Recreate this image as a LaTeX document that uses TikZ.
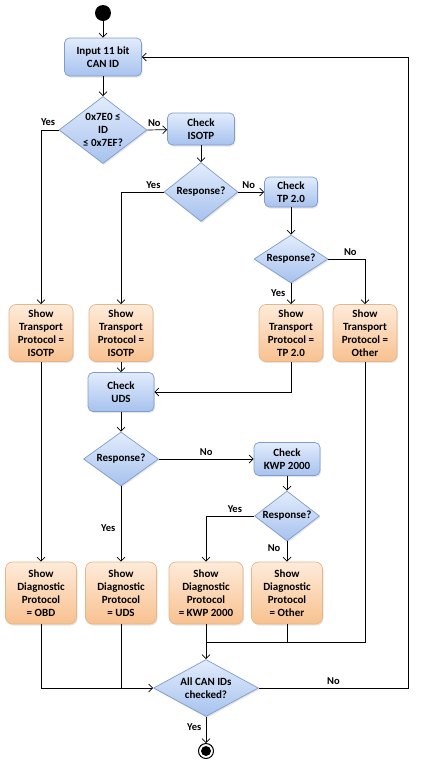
\documentclass[tikz,border=0pt]{standalone}
\usepackage{fontspec}
\setmainfont{Carlito}
\usepackage{tikz}
\usetikzlibrary{positioning,arrows.meta,shapes.geometric,shadows}
\definecolor{bluetop}{HTML}{E2ECFC}
\definecolor{bluebot}{HTML}{A7C2EE}
\definecolor{blueline}{HTML}{7F9CCB}
\definecolor{orgtop}{HTML}{FEEBDA}
\definecolor{orgbot}{HTML}{F8C18F}
\definecolor{orgline}{HTML}{E6B68A}
\tikzset{
  proc/.style={rectangle,rounded corners=5pt,draw=blueline,top color=bluetop,bottom color=bluebot,
    align=center,inner sep=1pt,drop shadow={opacity=0.2,shadow xshift=1pt,shadow yshift=-1.5pt}},
  res/.style={rectangle,rounded corners=7pt,draw=orgline,top color=orgtop,bottom color=orgbot,
    align=center,inner sep=1pt,drop shadow={opacity=0.2,shadow xshift=1pt,shadow yshift=-1.5pt}},
  dec/.style={diamond,shape aspect=1.3,draw=blueline,top color=bluetop,bottom color=bluebot,
    align=center,inner sep=0pt,drop shadow={opacity=0.2,shadow xshift=1pt,shadow yshift=-1.5pt}},
  lbl/.style={font=\fontsize{10.5}{12}\selectfont\bfseries}
}
\begin{document}
\begin{tikzpicture}[x=1pt,y=-1pt,>={Straight Barb[length=4pt,width=8pt]},font=\fontsize{11}{13}\selectfont\bfseries,line width=0.7pt]
\useasboundingbox[fill=white] (0,0) rectangle (425,766);
% start / end
\node[circle,fill=black,minimum size=16pt,inner sep=0pt] (start) at (103,13) {};
\node[circle,draw=black,line width=1pt,minimum size=15pt,inner sep=0pt] (stop) at (206,751) {};
\fill (stop) circle (5pt);
% transport layer
\node[proc,minimum width=77pt,minimum height=38pt] (input) at (103,57) {Input 11 bit\\CAN ID};
\node[dec,minimum width=88pt,minimum height=67pt] (rng) at (103,130) {0x7E0 ≤\\ID\\≤ 0x7EF?};
\node[proc,minimum width=67pt,minimum height=32pt] (chkiso) at (201,129) {Check\\ISOTP};
\node[dec,minimum width=74pt,minimum height=59pt] (respiso) at (201,192) {Response?};
\node[proc,minimum width=53pt,minimum height=30pt] (chktp) at (291,192) {Check\\TP 2.0};
\node[dec,minimum width=74pt,minimum height=48pt] (resptp) at (291,259) {Response?};
\node[res,minimum width=64pt,minimum height=57pt] (tpobd) at (41,333) {Show\\Transport\\Protocol =\\ISOTP};
\node[res,minimum width=64pt,minimum height=57pt] (tpiso) at (121,333) {Show\\Transport\\Protocol =\\ISOTP};
\node[res,minimum width=64pt,minimum height=57pt] (tptp) at (291,333) {Show\\Transport\\Protocol =\\TP 2.0};
\node[res,minimum width=64pt,minimum height=57pt] (tpoth) at (365,333) {Show\\Transport\\Protocol =\\Other};
% diagnostic layer
\node[proc,minimum width=66pt,minimum height=39pt] (chkuds) at (121,392) {Check\\UDS};
\node[dec,minimum width=75pt,minimum height=54pt] (respuds) at (121,459) {Response?};
\node[proc,minimum width=66pt,minimum height=33pt] (chkkwp) at (287,459) {Check\\KWP 2000};
\node[dec,minimum width=65pt,minimum height=50pt] (respkwp) at (287,516) {Response?};
\node[res,minimum width=71pt,minimum height=62pt] (dpobd) at (41,593) {Show\\Diagnostic\\Protocol\\= OBD};
\node[res,minimum width=71pt,minimum height=62pt] (dpuds) at (121,593) {Show\\Diagnostic\\Protocol\\= UDS};
\node[res,minimum width=74pt,minimum height=62pt] (dpkwp) at (206,593) {Show\\Diagnostic\\Protocol\\= KWP 2000};
\node[res,minimum width=71pt,minimum height=62pt] (dpoth) at (287,593) {Show\\Diagnostic\\Protocol\\= Other};
\node[dec,shape aspect=1.8,minimum width=105pt,minimum height=57pt] (done) at (206,688) {All CAN IDs\\checked?};
\coordinate (mrg) at (206,642);
\coordinate (loop) at (408,688);
% connectors
\draw[->] (start) -- (input);
\draw[->] (input) -- (rng);
\draw[->] (rng.west) -| node[lbl,pos=0.3,above=1pt]{Yes} (tpobd);
\draw[->] (rng.east) -- node[lbl,pos=0.35,above]{No} (chkiso);
\draw[->] (chkiso) -- (respiso);
\draw[->] (respiso.west) -| node[lbl,pos=0.12,above]{Yes} (tpiso);
\draw[->] (respiso.east) -- node[lbl,pos=0.4,above]{No} (chktp);
\draw[->] (chktp) -- (resptp);
\draw[->] (resptp.south) -- node[lbl,pos=0.45,left=2pt]{Yes} (tptp);
\draw[->] (resptp.east) -| node[lbl,pos=0.3,above]{No} (tpoth);
\draw[->] (tpiso) -- (chkuds);
\draw[->] (tptp.south) |- (chkuds.east);
\draw[->] (chkuds) -- (respuds);
\draw[->] (respuds.east) -- node[lbl,pos=0.5,above]{No} (chkkwp);
\draw[->] (respuds.south) -- node[lbl,pos=0.55,left=2pt]{Yes} (dpuds);
\draw[->] (chkkwp) -- (respkwp);
\draw[->] (respkwp.west) -| node[lbl,pos=0.2,above]{Yes} (dpkwp);
\draw[->] (respkwp.south) -- node[lbl,pos=0.35,left=3pt]{No} (dpoth);
\draw[->] (tpobd) -- (dpobd);
\draw[->] (dpobd.south) |- (done.west);
\draw (dpuds.south) -- (dpuds.south |- done.west);
\draw (tpoth.south) |- (mrg);
\draw (dpoth.south) -- (dpoth.south |- mrg);
\draw[->] (dpkwp.south) -- (done.north);
\draw[->] (done.east) -- node[lbl,pos=0.5,above]{No} (loop) |- (input.east);
\draw[->] (done.south) -- node[lbl,pos=0.4,left=1pt]{Yes} (stop);
\end{tikzpicture}
\end{document}
